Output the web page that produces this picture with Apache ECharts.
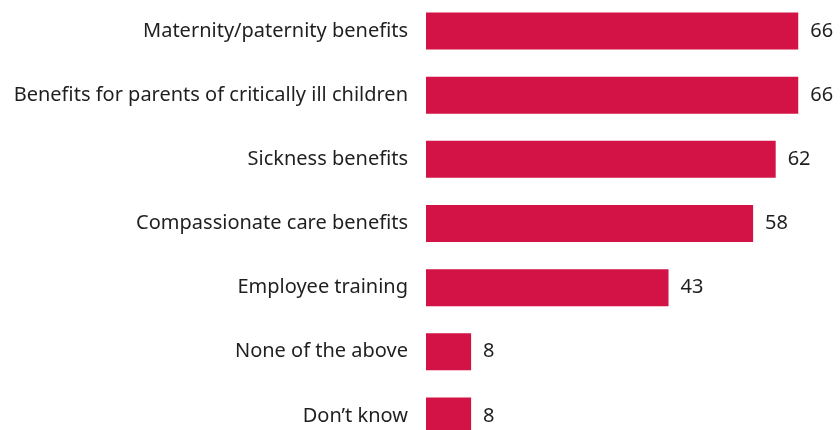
<!DOCTYPE html>
<html>
<head>
<meta charset="utf-8">
<script src="https://cdn.jsdelivr.net/npm/echarts@6/dist/echarts.min.js"></script>
<style>
  html, body { margin: 0; padding: 0; background: #ffffff; overflow: hidden; width: 840px; height: 430px; }
  /* The plot runs slightly past the bottom edge of the page; the last bar is cut off */
  #chart { position: absolute; left: 0; top: -1px; width: 840px; height: 452px; }
</style>
</head>
<body>
<div id="chart"></div>
<script>
// Categories listed top to bottom
const categories = [
  "Maternity/paternity benefits",
  "Benefits for parents of critically ill children",
  "Sickness benefits",
  "Compassionate care benefits",
  "Employee training",
  "None of the above",
  "Don\u2019t know"
];
const values = [66, 66, 62, 58, 43, 8, 8];

const FONT = "'Noto Sans', 'Open Sans', sans-serif";
const chart = echarts.init(document.getElementById('chart'), null, { renderer: 'canvas' });

// Each category band is about 64px tall
chart.setOption({
  animation: false,
  backgroundColor: '#ffffff',
  grid: { left: 426, width: 394.8, top: 0, height: 449, containLabel: false },
  xAxis: {
    type: 'value', min: 0, max: 70,
    show: false
  },
  yAxis: {
    type: 'category',
    data: categories,
    inverse: true,
    axisLine: { show: false },
    axisTick: { show: false },
    axisLabel: { color: '#1f1f1f', fontSize: 20, fontFamily: FONT, margin: 18 }
  },
  series: [{
    type: 'bar',
    data: values,
    barWidth: 37,
    itemStyle: { color: '#d31245' },
    label: {
      show: true, position: 'right', distance: 12,
      color: '#1f1f1f', fontSize: 20, fontFamily: FONT
    }
  }]
});
</script>
</body>
</html>
